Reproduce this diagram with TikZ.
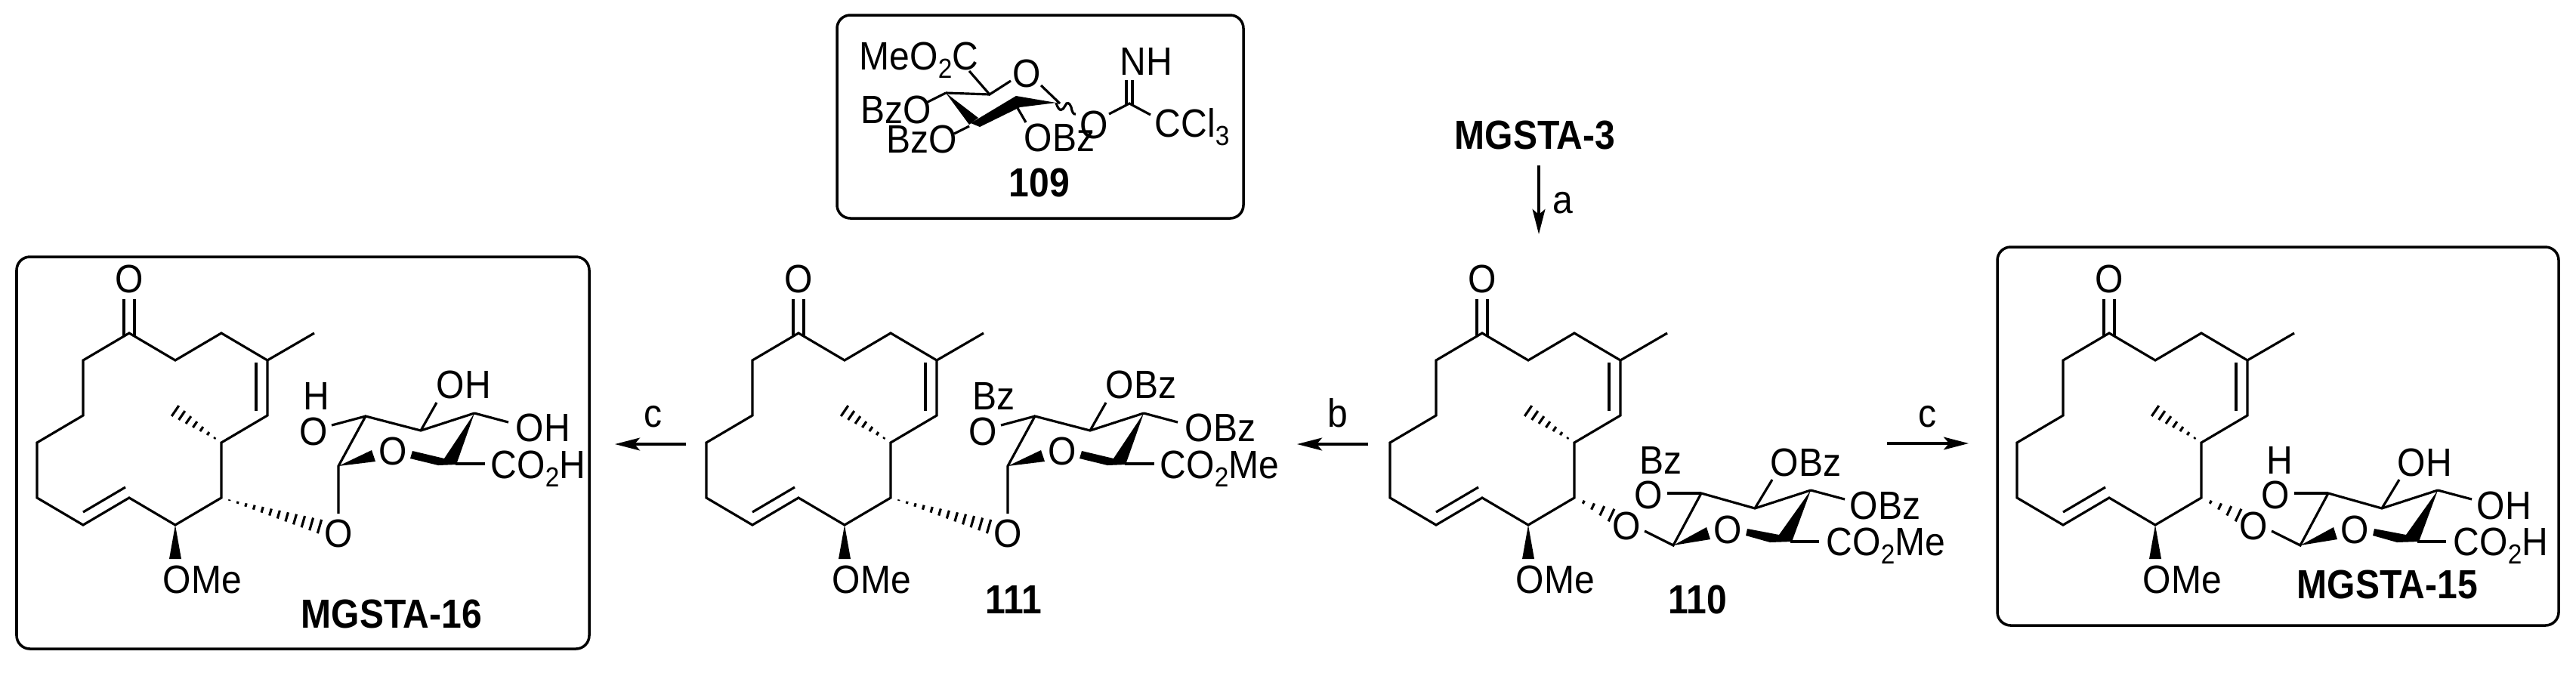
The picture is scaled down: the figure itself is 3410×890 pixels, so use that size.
\documentclass[tikz,border=0pt]{standalone}
\usepackage{fontspec}
\setmainfont{Liberation Sans}
\usetikzlibrary{arrows.meta, calc}

\tikzset{
  bond/.style={line width=0.9pt, line join=miter},
  hashline/.style={line width=0.9pt},
  box/.style={line width=1pt, rounded corners=5pt},
  rxn/.style={line width=0.9pt, -{Stealth[length=9.4pt, width=4.8pt, inset=2pt]}},
  atom/.style={inner sep=0pt, yscale=1.09, transform shape, font=\fontsize{13.66}{16}\selectfont},
  chain/.style={atom, anchor=base west},
  letter/.style={atom, anchor=base},
  compound/.style={inner sep=0pt, anchor=base west, yscale=1.12, transform shape, font=\fontsize{13.66}{16}\selectfont\bfseries}
}
\newcommand{\chemsub}[1]{\raisebox{-3.1pt}{\fontsize{9.5}{10}\selectfont #1}}
% #1 from, #2 to, #3 number of lines, #4 half width at the far end
\newcommand{\hashbond}[4]{%
  \foreach \i in {1,...,#3} {
    \pgfmathsetmacro{\hfrac}{\i/#3}
    \coordinate (hh) at ($(#1)!\hfrac!(#2)$);
    \draw[hashline] ($(hh)!\hfrac*#4!90:(#1)$) -- ($(hh)!\hfrac*#4!-90:(#1)$);
  }}

\begin{document}
\begin{tikzpicture}[x=0.01cm,y=-0.01cm]
    \useasboundingbox (0,0) rectangle (3410,890);
    %
    \draw[box] (22,340) rectangle (780,859);
    \draw[box] (1108,20) rectangle (1646,289);
    \draw[box] (2644,327) rectangle (3387,828);
    %
    % macrocycle, the same in all four
    \foreach \cx / \m in {171/d,1057/c,1962/b,2792/e} {
    \begin{scope}[shift={(\cx,441)}]
    \foreach \a / \px / \py in {1/0/0,2/61/36,3/122/0,4/183/36,5/183/109,6/122/145,7/122/218,
        8/61/254,9/0/218,10/-61/254,11/-122/218,12/-122/145,13/-61/109,14/-61/36}
    \coordinate (\m\a) at (\px,\py);
    \coordinate (\m-me) at (245,0);
    \coordinate (\m-hm) at (61,103);
    \draw[bond] (\m1) -- (\m2) -- (\m3) -- (\m4) -- (\m5) -- (\m6) -- (\m7) -- (\m8) -- (\m9)
        -- (\m10) -- (\m11) -- (\m12) -- (\m13) -- (\m14) -- cycle;
    \draw[bond] (\m4) -- (\m-me);
    \draw[bond] (168,39) -- (168,103);
    \draw[bond] (-61,237) -- (-5,204);
    \draw[bond] (-7,4) -- (-7,-45);
    \draw[bond] (7,4) -- (7,-45);
    \hashbond{\m6}{\m-hm}{7}{2.4pt}
    \fill (\m8) -- (53,299) -- (69,299) -- cycle;
    \node[atom] (\m-keto) at (0,-72) {O};
    \node[chain] (\m-ome) at (44,344) {OMe};
    \end{scope}
    }
    %
    % axial sugars
    \foreach \sx / \s / \m / \rg / \est in {0/p/d/H/H,886/q/c/Bz/Me} {
    \begin{scope}[shift={(\sx,0)}]
    \foreach \a / \px / \py in {1/448/617,2/484/551,3/557/570,4/628/547,5/603/614}
    \coordinate (\s\a) at (\px,\py);
    \coordinate (\s-hs) at (423,697);
    \node[atom] (\s-glyc) at (448,706) {O};
    \node[atom] (\s-ring) at (520,597) {O};
    \node[atom] (\s-left) at (415,571) {O};
    \node[chain] (\s-lab) at (401,542) {\rg};
    \node[chain] (\s-top) at (577,527) {O\rg};
    \node[chain] (\s-rt) at (682,584) {O\rg};
    \node[chain] (\s-acid) at (649,633) {CO\chemsub{2}\est};
    \hashbond{\m7}{\s-hs}{12}{2.7pt}
    \draw[bond] (448,680) -- (\s1) -- (\s2) -- (\s3) -- (\s4);
    \draw[bond] (\s2) -- (439,563);
    \draw[bond] (\s3) -- (578,533);
    \draw[bond] (\s4) -- (673,559);
    \draw[bond] (\s5) -- (642,614);
    \fill (\s1) -- (492,596) -- (497,611) -- cycle;
    \fill (\s4) -- (588,607) -- (546,597) -- (543,607) -- (580,616) -- (604,615) -- cycle;
    \end{scope}
    }
    %
    % equatorial sugars
    \foreach \sx / \s / \m / \rg / \est in {0/r/b/Bz/Me,830/t/e/H/H} {
    \begin{scope}[shift={(\sx,0)}]
    \foreach \a / \px / \py in {1/2215/722,2/2252/653,3/2323/673,4/2397/649,5/2370/717}
    \coordinate (\s\a) at (\px,\py);
    \coordinate (\s-hs) at (2133,682);
    \node[atom] (\s-glyc) at (2153,696) {O};
    \node[atom] (\s-ring) at (2287,701) {O};
    \node[atom] (\s-left) at (2182,655) {O};
    \node[chain] (\s-lab) at (2170,627) {\rg};
    \node[chain] (\s-top) at (2343,630) {O\rg};
    \node[chain] (\s-rt) at (2448,687) {O\rg};
    \node[chain] (\s-acid) at (2417,735) {CO\chemsub{2}\est};
    \hashbond{\m7}{\s-hs}{4}{2.6pt}
    \draw[bond] (2177,703) -- (\s1) -- (\s2) -- (\s3) -- (\s4);
    \draw[bond] (\s2) -- (2207,653);
    \draw[bond] (\s3) -- (2346,635);
    \draw[bond] (\s4) -- (2442,661);
    \draw[bond] (\s5) -- (2408,717);
    \fill (\s1) -- (2259,698) -- (2264,714) -- cycle;
    \fill (\s4) -- (2355,708) -- (2313,700) -- (2311,709) -- (2343,718) -- (2372,717) -- cycle;
    \end{scope}
    }
    %
    % donor in the top box
    \foreach \a / \px / \py in {c5/1310/125,c4/1252/123,c1/1398/136,cn/1495/137}
    \coordinate (\a) at (\px,\py);
    \node[chain] (meester) at (1137,92) {MeO\chemsub{2}C};
    \node[atom] (pyrO) at (1359,97) {O};
    \node[chain] (bzoa) at (1139,163) {BzO};
    \node[chain] (bzob) at (1173,202) {BzO};
    \node[chain] (bzoc) at (1355,200) {OBz};
    \node[atom] (exoO) at (1448,165) {O};
    \node[chain] (imine) at (1482,99) {NH};
    \node[chain] (ccl) at (1528,181) {CCl\chemsub{3}};
    \draw[bond] (1283,94) -- (c5) -- (1338,107);
    \draw[bond] (c4) -- (c5);
    \draw[bond] (c4) -- (1226,136);
    \draw[bond] (1283,167) -- (1263,177);
    \draw[bond] (1347,143) -- (1358,162);
    \draw[bond] (1378,113) -- (1403,137);
    \draw[bond] (c1) .. controls (1402,150) and (1407,146) .. (1410,140)
        .. controls (1412,134) and (1416,136) .. (1418,142)
        .. controls (1419,148) and (1421,152) .. (1424,151);
    \draw[bond] (1468,151) -- (cn) -- (1523,152);
    \draw[bond] (1491,139) -- (1491,106);
    \draw[bond] (1499,139) -- (1499,106);
    \fill (c4) -- (1283,165) -- (1295,156) -- cycle;
    \fill (1285,163) -- (1297,168) -- (1350,142) -- (c1) -- (1345,127) -- cycle;
    %
    % arrows
    \coordinate (atail) at (2037,219);
    \coordinate (ahead) at (2037,310);
    \coordinate (btail) at (1811,588);
    \coordinate (bhead) at (1717,588);
    \coordinate (ctail) at (908,588);
    \coordinate (chead) at (814,588);
    \coordinate (dtail) at (2498,587);
    \coordinate (dhead) at (2606,587);
    \draw[rxn] (atail) -- (ahead);
    \draw[rxn] (btail) -- (bhead);
    \draw[rxn] (ctail) -- (chead);
    \draw[rxn] (dtail) -- (dhead);
    \node[letter] (stepa) at (2069,282) {a};
    \node[letter] (stepb) at (1771,565) {b};
    \node[letter] (stepc) at (864,565) {c};
    \node[letter] (stepd) at (2551,565) {c};
    %
    \node[compound] (mgstaiii) at (1925,197) {MGSTA-3};
    \node[compound] (mgstaxvi) at (398,831) {MGSTA-16};
    \node[compound] (mgstaxv) at (3040,792) {MGSTA-15};
    \node[compound] (donor) at (1335,260) {109};
    \node[compound] (acceptor) at (1304,812) {111};
    \node[compound] (ester) at (2208,812) {110};
\end{tikzpicture}
\end{document}
